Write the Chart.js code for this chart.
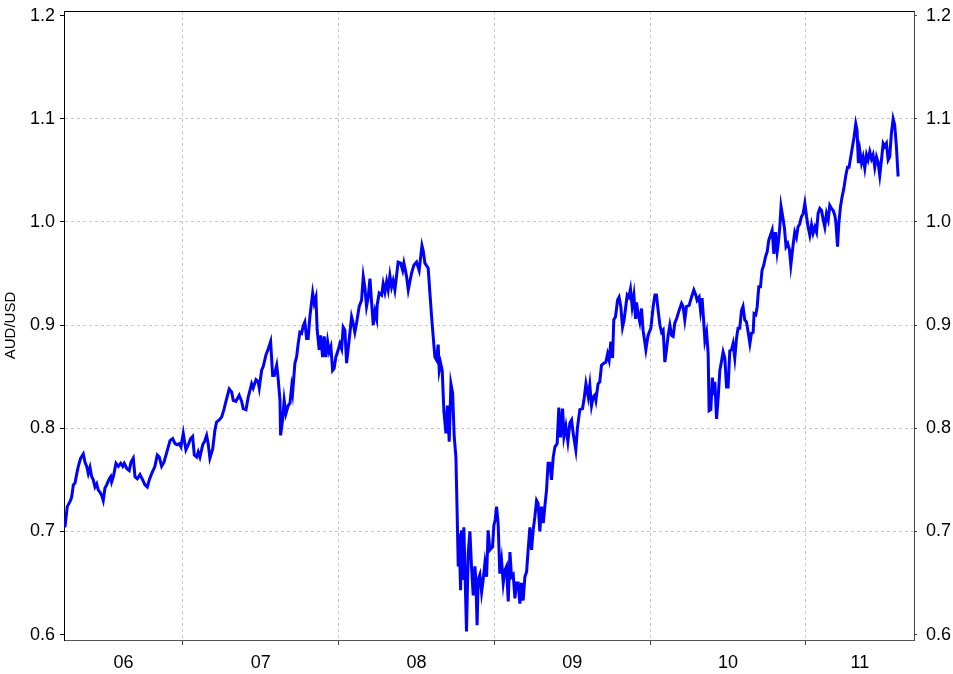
<!DOCTYPE html>
<html>
<head>
<meta charset="utf-8">
<title>AUD/USD</title>
<script src="https://cdn.jsdelivr.net/npm/chart.js@4.4.0/dist/chart.umd.min.js"></script>
<style>
  html, body { margin: 0; padding: 0; overflow: hidden; background: #fff; }
  #wrap { width: 990px; height: 674px; }
</style>
</head>
<body>
<div id="wrap"><canvas id="myChart" width="990" height="674"></canvas></div>
<script>
// dates as decimal years, rates
var dates = [
  2006.242, 2006.257, 2006.275, 2006.285, 2006.296, 2006.307, 2006.318, 2006.328, 2006.343, 2006.360,
  2006.371, 2006.382, 2006.392, 2006.403, 2006.414, 2006.424, 2006.435, 2006.446, 2006.456, 2006.467,
  2006.478, 2006.488, 2006.499, 2006.510, 2006.527, 2006.536, 2006.542, 2006.553, 2006.570, 2006.585,
  2006.600, 2006.613, 2006.623, 2006.639, 2006.655, 2006.666, 2006.681, 2006.692, 2006.707, 2006.724,
  2006.741, 2006.756, 2006.771, 2006.784, 2006.799, 2006.820, 2006.835, 2006.848, 2006.863, 2006.878,
  2006.895, 2006.917, 2006.934, 2006.949, 2006.963, 2006.976, 2006.987, 2007.002, 2007.019, 2007.034,
  2007.049, 2007.062, 2007.073, 2007.088, 2007.098, 2007.109, 2007.127, 2007.141, 2007.152, 2007.162,
  2007.173, 2007.191, 2007.205, 2007.216, 2007.233, 2007.249, 2007.263, 2007.281, 2007.297, 2007.313,
  2007.323, 2007.340, 2007.361, 2007.377, 2007.387, 2007.405, 2007.419, 2007.441, 2007.451, 2007.469,
  2007.483, 2007.490, 2007.505, 2007.516, 2007.533, 2007.548, 2007.563, 2007.576, 2007.586, 2007.602,
  2007.612, 2007.623, 2007.627, 2007.640, 2007.650, 2007.661, 2007.676, 2007.687, 2007.698, 2007.704,
  2007.719, 2007.730, 2007.740, 2007.751, 2007.762, 2007.772, 2007.783, 2007.794, 2007.804, 2007.815,
  2007.826, 2007.833, 2007.843, 2007.854, 2007.862, 2007.875, 2007.884, 2007.897, 2007.907, 2007.918,
  2007.929, 2007.939, 2007.950, 2007.961, 2007.971, 2007.982, 2007.997, 2008.008, 2008.019, 2008.029,
  2008.040, 2008.051, 2008.061, 2008.072, 2008.083, 2008.093, 2008.104, 2008.115, 2008.132, 2008.147,
  2008.158, 2008.168, 2008.179, 2008.190, 2008.201, 2008.212, 2008.222, 2008.233, 2008.244, 2008.247,
  2008.260, 2008.276, 2008.286, 2008.297, 2008.308, 2008.318, 2008.329, 2008.340, 2008.350, 2008.361,
  2008.372, 2008.382, 2008.398, 2008.411, 2008.419, 2008.430, 2008.436, 2008.447, 2008.457, 2008.468,
  2008.483, 2008.500, 2008.517, 2008.535, 2008.543, 2008.554, 2008.575, 2008.586, 2008.597, 2008.607,
  2008.618, 2008.629, 2008.639, 2008.646, 2008.655, 2008.665, 2008.676, 2008.689, 2008.699, 2008.710,
  2008.721, 2008.732, 2008.742, 2008.753, 2008.761, 2008.768, 2008.774, 2008.783, 2008.789, 2008.796,
  2008.804, 2008.810, 2008.821, 2008.832, 2008.843, 2008.853, 2008.864, 2008.875, 2008.881, 2008.889,
  2008.896, 2008.907, 2008.918, 2008.928, 2008.939, 2008.950, 2008.960, 2008.971, 2008.988, 2008.997,
  2009.005, 2009.014, 2009.024, 2009.035, 2009.046, 2009.057, 2009.067, 2009.078, 2009.089, 2009.100,
  2009.110, 2009.121, 2009.132, 2009.142, 2009.153, 2009.164, 2009.174, 2009.185, 2009.196, 2009.207,
  2009.217, 2009.228, 2009.239, 2009.249, 2009.260, 2009.271, 2009.281, 2009.292, 2009.303, 2009.314,
  2009.324, 2009.335, 2009.345, 2009.356, 2009.367, 2009.378, 2009.389, 2009.403, 2009.414, 2009.425,
  2009.438, 2009.447, 2009.459, 2009.472, 2009.485, 2009.496, 2009.506, 2009.523, 2009.534, 2009.549,
  2009.566, 2009.575, 2009.588, 2009.603, 2009.613, 2009.624, 2009.634, 2009.645, 2009.652, 2009.666,
  2009.677, 2009.688, 2009.703, 2009.716, 2009.727, 2009.737, 2009.748, 2009.759, 2009.767, 2009.778,
  2009.791, 2009.801, 2009.812, 2009.823, 2009.833, 2009.844, 2009.853, 2009.863, 2009.874, 2009.885,
  2009.896, 2009.907, 2009.913, 2009.923, 2009.934, 2009.945, 2009.955, 2009.973, 2009.987, 2010.005,
  2010.020, 2010.031, 2010.041, 2010.052, 2010.063, 2010.074, 2010.084, 2010.095, 2010.106, 2010.116,
  2010.127, 2010.138, 2010.148, 2010.159, 2010.170, 2010.186, 2010.202, 2010.212, 2010.223, 2010.234,
  2010.251, 2010.266, 2010.281, 2010.294, 2010.302, 2010.315, 2010.324, 2010.334, 2010.345, 2010.352,
  2010.363, 2010.373, 2010.379, 2010.390, 2010.400, 2010.409, 2010.416, 2010.427, 2010.437, 2010.448,
  2010.459, 2010.469, 2010.480, 2010.491, 2010.501, 2010.512, 2010.523, 2010.533, 2010.544, 2010.555,
  2010.565, 2010.576, 2010.587, 2010.597, 2010.608, 2010.619, 2010.630, 2010.641, 2010.651, 2010.662,
  2010.668, 2010.679, 2010.688, 2010.698, 2010.709, 2010.719, 2010.730, 2010.741, 2010.752, 2010.762,
  2010.773, 2010.784, 2010.795, 2010.805, 2010.816, 2010.823, 2010.833, 2010.841, 2010.852, 2010.863,
  2010.873, 2010.884, 2010.895, 2010.904, 2010.910, 2010.918, 2010.929, 2010.940, 2010.950, 2010.961,
  2010.972, 2010.983, 2010.994, 2011.005, 2011.015, 2011.026, 2011.037, 2011.047, 2011.058, 2011.069,
  2011.079, 2011.090, 2011.101, 2011.112, 2011.122, 2011.133, 2011.144, 2011.154, 2011.165, 2011.176,
  2011.187, 2011.193, 2011.204, 2011.212, 2011.223, 2011.233, 2011.244, 2011.257, 2011.268, 2011.278,
  2011.289, 2011.300, 2011.310, 2011.321, 2011.329, 2011.338, 2011.347, 2011.358, 2011.368, 2011.379,
  2011.390, 2011.400, 2011.411, 2011.422, 2011.432, 2011.443, 2011.454, 2011.464, 2011.475, 2011.486,
  2011.497, 2011.507, 2011.518, 2011.529, 2011.539, 2011.550, 2011.561, 2011.571, 2011.582, 2011.593
];

var audusd = [
  0.704, 0.724, 0.729, 0.733, 0.745, 0.747, 0.756, 0.763, 0.771, 0.775,
  0.767, 0.763, 0.756, 0.762, 0.753, 0.750, 0.743, 0.746, 0.740, 0.738,
  0.735, 0.730, 0.742, 0.745, 0.751, 0.753, 0.748, 0.753, 0.766, 0.763,
  0.766, 0.763, 0.766, 0.761, 0.759, 0.767, 0.771, 0.753, 0.751, 0.755,
  0.750, 0.745, 0.743, 0.750, 0.756, 0.763, 0.774, 0.772, 0.763, 0.767,
  0.776, 0.788, 0.790, 0.785, 0.784, 0.785, 0.782, 0.795, 0.779, 0.784,
  0.790, 0.792, 0.774, 0.772, 0.777, 0.772, 0.784, 0.788, 0.793, 0.785,
  0.771, 0.780, 0.798, 0.806, 0.808, 0.811, 0.818, 0.829, 0.838, 0.835,
  0.827, 0.826, 0.832, 0.826, 0.819, 0.818, 0.830, 0.843, 0.839, 0.847,
  0.845, 0.839, 0.856, 0.860, 0.871, 0.877, 0.884, 0.851, 0.851, 0.861,
  0.847, 0.827, 0.793, 0.808, 0.827, 0.814, 0.822, 0.824, 0.840, 0.834,
  0.863, 0.869, 0.882, 0.893, 0.892, 0.899, 0.903, 0.887, 0.887, 0.908,
  0.922, 0.931, 0.921, 0.927, 0.895, 0.876, 0.890, 0.869, 0.889, 0.869,
  0.884, 0.874, 0.879, 0.856, 0.858, 0.869, 0.876, 0.882, 0.877, 0.898,
  0.895, 0.863, 0.877, 0.892, 0.908, 0.902, 0.893, 0.902, 0.918, 0.924,
  0.947, 0.937, 0.918, 0.927, 0.945, 0.921, 0.900, 0.913, 0.906, 0.919,
  0.931, 0.929, 0.940, 0.932, 0.942, 0.934, 0.948, 0.937, 0.943, 0.934,
  0.948, 0.961, 0.960, 0.953, 0.960, 0.952, 0.947, 0.934, 0.942, 0.950,
  0.958, 0.961, 0.953, 0.977, 0.972, 0.960, 0.955, 0.931, 0.908, 0.889,
  0.869, 0.866, 0.881, 0.856, 0.863, 0.856, 0.816, 0.795, 0.822, 0.787,
  0.843, 0.834, 0.792, 0.772, 0.717, 0.666, 0.698, 0.643, 0.701, 0.653,
  0.704, 0.669, 0.603, 0.679, 0.700, 0.666, 0.638, 0.666, 0.653, 0.609,
  0.653, 0.658, 0.641, 0.653, 0.669, 0.656, 0.701, 0.682, 0.685, 0.706,
  0.711, 0.724, 0.708, 0.659, 0.672, 0.650, 0.662, 0.666, 0.632, 0.680,
  0.656, 0.658, 0.635, 0.650, 0.650, 0.630, 0.650, 0.633, 0.656, 0.661,
  0.682, 0.704, 0.682, 0.701, 0.714, 0.730, 0.727, 0.700, 0.724, 0.708,
  0.724, 0.740, 0.766, 0.766, 0.750, 0.772, 0.782, 0.785, 0.820, 0.791,
  0.819, 0.792, 0.802, 0.787, 0.805, 0.808, 0.795, 0.779, 0.801, 0.818,
  0.819, 0.827, 0.843, 0.830, 0.842, 0.822, 0.830, 0.832, 0.827, 0.843,
  0.845, 0.861, 0.863, 0.864, 0.872, 0.866, 0.884, 0.868, 0.905, 0.908,
  0.924, 0.927, 0.918, 0.898, 0.905, 0.918, 0.929, 0.927, 0.935, 0.918,
  0.929, 0.906, 0.922, 0.911, 0.903, 0.916, 0.895, 0.876, 0.890, 0.897,
  0.918, 0.929, 0.929, 0.914, 0.900, 0.893, 0.895, 0.864, 0.877, 0.890,
  0.900, 0.890, 0.889, 0.902, 0.906, 0.914, 0.921, 0.918, 0.905, 0.918,
  0.919, 0.927, 0.934, 0.929, 0.924, 0.927, 0.914, 0.926, 0.902, 0.885,
  0.893, 0.872, 0.817, 0.818, 0.849, 0.832, 0.845, 0.809, 0.829, 0.856,
  0.865, 0.874, 0.868, 0.840, 0.840, 0.875, 0.876, 0.882, 0.868, 0.887,
  0.897, 0.897, 0.914, 0.918, 0.905, 0.903, 0.893, 0.882, 0.892, 0.893,
  0.911, 0.910, 0.918, 0.937, 0.937, 0.953, 0.958, 0.966, 0.971, 0.982,
  0.987, 0.992, 0.969, 0.990, 0.971, 0.979, 0.995, 1.015, 1.005, 0.994,
  0.976, 0.979, 0.973, 0.958, 0.966, 0.977, 0.990, 0.985, 0.995, 0.998,
  1.005, 1.008, 1.018, 1.005, 0.995, 0.987, 0.997, 0.989, 0.995, 0.990,
  1.008, 1.013, 1.011, 1.002, 0.995, 1.008, 1.002, 1.016, 1.013, 1.011,
  1.006, 1.000, 0.976, 0.998, 1.015, 1.024, 1.032, 1.045, 1.053, 1.053,
  1.063, 1.073, 1.082, 1.095, 1.089, 1.057, 1.069, 1.057, 1.063, 1.052,
  1.065, 1.060, 1.068, 1.061, 1.065, 1.053, 1.063, 1.058, 1.045, 1.060,
  1.076, 1.073, 1.076, 1.060, 1.063, 1.086, 1.100, 1.094, 1.073, 1.044
];

var years = [2006, 2007, 2008, 2009, 2010, 2011];
var yTicks = [0.6, 0.7, 0.8, 0.9, 1.0, 1.1, 1.2];
var xMin = 2006.236, xMax = 2011.695;
var yMin = 0.5947, yMax = 1.2044;

var FONT = "'Liberation Sans', Arial, sans-serif";
var GRID = '#c8c8c8';

// grid lines sit on the year boundaries, the year labels in the middle of each visible year
var xTicks = [];
var yearLabelAt = {};
years.forEach(function (yr) {
  var a = Math.max(yr, xMin), b = Math.min(yr + 1, xMax);
  var mid = +((a + b) / 2).toFixed(4);
  yearLabelAt[mid] = String(yr).slice(2);
  xTicks.push(mid);
  if (yr > years[0]) xTicks.push(yr);
});
xTicks.sort(function (a, b) { return a - b; });

function isBoundary(v) { return Math.abs(v - Math.round(v)) < 1e-6; }
function innerY(v) { return v > 0.65 && v < 1.15; }

// keep the axes from pushing the plot area around
function fixWidth(w) {
  return function (s) { s.width = w; s.paddingTop = 0; s.paddingBottom = 0; };
}

var topBorder = {
  id: 'topBorder',
  afterDraw: function (chart) {
    var a = chart.chartArea, c = chart.ctx;
    c.save();
    c.strokeStyle = '#000';
    c.lineWidth = 1;
    c.beginPath();
    c.moveTo(a.left, Math.round(a.top) + 0.5);
    c.lineTo(a.right, Math.round(a.top) + 0.5);
    c.stroke();
    c.restore();
  }
};

var ctx = document.getElementById('myChart').getContext('2d');
var myChart = new Chart(ctx, {
  type: 'line',
  data: {
    datasets: [{
      label: 'AUD/USD',
      data: dates.map(function (d, i) { return { x: d, y: audusd[i] }; }),
      borderColor: '#0000ff',
      borderWidth: 3,
      pointRadius: 0,
      tension: 0,
      fill: false
    }]
  },
  options: {
    responsive: false,
    animation: false,
    layout: { padding: { top: 11, left: 0, right: 0, bottom: 0 } },
    plugins: {
      legend: { display: false },
      tooltip: { enabled: false }
    },
    scales: {
      x: {
        type: 'linear',
        position: 'bottom',
        min: xMin,
        max: xMax,
        afterBuildTicks: function (s) { s.ticks = xTicks.map(function (v) { return { value: v }; }); },
        afterFit: function (s) { s.height = 34; s.paddingLeft = 0; s.paddingRight = 0; },
        ticks: {
          autoSkip: false,
          maxRotation: 0,
          padding: 7,
          color: '#000',
          font: { family: FONT, size: 18 },
          callback: function (v) { return isBoundary(v) ? '' : (yearLabelAt[+v.toFixed(4)] || ''); }
        },
        grid: {
          color: function (c) { return c.tick && isBoundary(c.tick.value) ? GRID : 'rgba(0,0,0,0)'; },
          tickColor: function (c) { return c.tick && isBoundary(c.tick.value) ? '#444' : 'rgba(0,0,0,0)'; },
          tickLength: 5,
          lineWidth: 1,
          borderDash: [3, 3]
        },
        border: { color: '#555', width: 1, dash: [3, 3] }
      },
      y: {
        position: 'left',
        min: yMin,
        max: yMax,
        afterBuildTicks: function (s) { s.ticks = yTicks.map(function (v) { return { value: v }; }); },
        afterFit: fixWidth(64),
        ticks: {
          padding: 5,
          color: '#000',
          font: { family: FONT, size: 18 },
          callback: function (v) { return v.toFixed(1); }
        },
        grid: {
          color: function (c) { return c.tick && innerY(c.tick.value) ? GRID : 'rgba(0,0,0,0)'; },
          tickColor: '#000',
          tickLength: 4,
          lineWidth: 1,
          borderDash: [3, 3]
        },
        border: { color: '#000', width: 1, dash: [3, 3] },
        title: {
          display: true,
          text: 'AUD/USD',
          color: '#000',
          font: { family: FONT, size: 15 },
          padding: { top: 2, bottom: 0 }
        }
      },
      y2: {
        position: 'right',
        min: yMin,
        max: yMax,
        afterBuildTicks: function (s) { s.ticks = yTicks.map(function (v) { return { value: v }; }); },
        afterFit: fixWidth(76),
        ticks: {
          padding: 9,
          color: '#000',
          font: { family: FONT, size: 18 },
          callback: function (v) { return v.toFixed(1); }
        },
        grid: { drawOnChartArea: false, tickColor: '#444', tickLength: 3 },
        border: { color: '#444', width: 1 }
      }
    }
  },
  plugins: [topBorder]
});
</script>
</body>
</html>
